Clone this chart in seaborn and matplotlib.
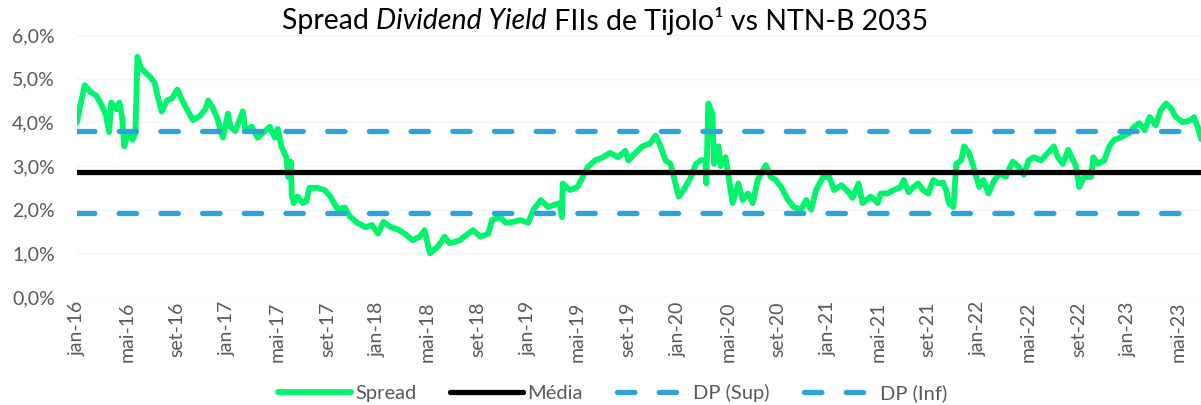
import pandas as pd
import matplotlib
matplotlib.use("Agg")
import matplotlib.pyplot as plt
import seaborn as sns

# --- dados (spread em %) ---
datas = [
    "2016-01-01", "2016-01-08", "2016-01-20", "2016-02-02", "2016-02-18", "2016-03-03",
    "2016-03-12", "2016-03-19", "2016-03-24", "2016-04-06", "2016-04-13", "2016-04-20",
    "2016-04-25", "2016-05-03", "2016-05-15", "2016-05-22", "2016-05-27", "2016-06-04",
    "2016-06-14", "2016-06-26", "2016-07-08", "2016-07-15", "2016-07-25", "2016-08-07",
    "2016-08-19", "2016-09-01", "2016-09-13", "2016-09-27", "2016-10-09", "2016-10-26",
    "2016-11-08", "2016-11-15", "2016-11-25", "2016-12-07", "2016-12-14", "2016-12-21",
    "2017-01-02", "2017-01-08", "2017-01-20", "2017-02-07", "2017-02-14", "2017-03-01",
    "2017-03-15", "2017-04-02", "2017-04-14", "2017-04-26", "2017-05-03", "2017-05-12",
    "2017-05-19", "2017-05-24", "2017-05-29", "2017-06-04", "2017-06-06", "2017-06-11",
    "2017-06-20", "2017-07-03", "2017-07-12", "2017-07-19", "2017-08-06", "2017-08-25",
    "2017-09-08", "2017-09-26", "2017-10-13", "2017-10-25", "2017-11-12", "2017-12-02",
    "2017-12-18", "2018-01-02", "2018-01-15", "2018-02-02", "2018-02-19", "2018-03-08",
    "2018-03-27", "2018-04-13", "2018-04-25", "2018-05-08", "2018-05-27", "2018-06-13",
    "2018-06-25", "2018-07-20", "2018-08-09", "2018-08-21", "2018-09-08", "2018-09-27",
    "2018-10-06", "2018-10-25", "2018-11-08", "2018-11-27", "2018-12-14", "2019-01-02",
    "2019-01-15", "2019-02-02", "2019-02-19", "2019-03-03", "2019-03-20", "2019-03-25",
    "2019-03-27", "2019-04-14", "2019-05-02", "2019-05-15", "2019-05-27", "2019-06-14",
    "2019-07-03", "2019-07-20", "2019-08-09", "2019-08-26", "2019-09-03", "2019-09-20",
    "2019-10-07", "2019-10-26", "2019-11-08", "2019-11-20", "2019-12-02", "2019-12-14",
    "2019-12-26", "2020-01-03", "2020-01-15", "2020-02-02", "2020-02-14", "2020-02-26",
    "2020-03-08", "2020-03-10", "2020-03-15", "2020-03-25", "2020-03-29", "2020-04-09",
    "2020-04-14", "2020-04-26", "2020-05-13", "2020-05-27", "2020-06-07", "2020-06-19",
    "2020-07-01", "2020-07-13", "2020-08-02", "2020-08-14", "2020-08-26", "2020-09-08",
    "2020-09-25", "2020-10-09", "2020-10-26", "2020-11-08", "2020-11-20", "2020-12-02",
    "2020-12-19", "2021-01-03", "2021-01-15", "2021-02-02", "2021-02-19", "2021-03-01",
    "2021-03-15", "2021-03-25", "2021-04-14", "2021-05-01", "2021-05-08", "2021-05-25",
    "2021-06-09", "2021-06-26", "2021-07-03", "2021-07-15", "2021-07-27", "2021-08-07",
    "2021-08-19", "2021-09-01", "2021-09-13", "2021-09-25", "2021-10-07", "2021-10-14",
    "2021-10-21", "2021-11-01", "2021-11-08", "2021-11-20", "2021-11-27", "2021-12-09",
    "2021-12-19", "2022-01-03", "2022-01-13", "2022-01-25", "2022-02-07", "2022-02-21",
    "2022-03-08", "2022-03-25", "2022-04-07", "2022-04-21", "2022-05-03", "2022-05-15",
    "2022-06-02", "2022-06-19", "2022-07-03", "2022-07-13", "2022-07-25", "2022-08-07",
    "2022-08-19", "2022-08-26", "2022-09-03", "2022-09-15", "2022-10-02", "2022-10-07",
    "2022-10-19", "2022-11-03", "2022-11-15", "2022-11-27", "2022-12-14", "2023-01-02",
    "2023-01-15", "2023-01-27", "2023-02-09", "2023-02-21", "2023-03-08", "2023-03-20",
    "2023-04-02", "2023-04-14", "2023-04-26", "2023-05-13", "2023-06-02", "2023-06-09",
    "2023-06-19", "2023-06-26",
]
spread = [
    4.00, 4.35, 4.85, 4.70, 4.60, 4.35,
    4.15, 3.78, 4.45, 4.30, 4.45, 4.10,
    3.45, 3.75, 3.60, 3.75, 5.50, 5.25,
    5.15, 5.05, 4.90, 4.60, 4.25, 4.50,
    4.55, 4.75, 4.50, 4.25, 4.05, 4.15,
    4.30, 4.50, 4.35, 4.10, 3.85, 3.65,
    4.20, 3.90, 3.80, 4.25, 3.80, 3.90,
    3.65, 3.80, 3.90, 3.65, 3.85, 3.45,
    3.30, 3.20, 2.75, 3.10, 2.35, 2.15,
    2.30, 2.15, 2.20, 2.50, 2.50, 2.45,
    2.30, 2.00, 2.05, 1.85, 1.70, 1.60,
    1.65, 1.45, 1.72, 1.60, 1.55, 1.45,
    1.30, 1.38, 1.53, 1.00, 1.15, 1.38,
    1.23, 1.30, 1.45, 1.53, 1.38, 1.45,
    1.76, 1.83, 1.70, 1.72, 1.76, 1.70,
    2.00, 2.22, 2.06, 2.10, 2.15, 1.83,
    2.60, 2.45, 2.52, 2.75, 2.98, 3.13,
    3.20, 3.30, 3.20, 3.35, 3.13, 3.30,
    3.45, 3.52, 3.70, 3.45, 3.13, 3.05,
    2.60, 2.30, 2.45, 2.75, 3.05, 3.13,
    3.13, 2.60, 4.43, 4.20, 3.05, 3.45,
    3.00, 3.20, 2.15, 2.60, 2.22, 2.37,
    2.15, 2.68, 3.02, 2.75, 2.68, 2.52,
    2.22, 2.06, 2.00, 2.22, 2.00, 2.45,
    2.75, 2.75, 2.45, 2.56, 2.40, 2.27,
    2.60, 2.15, 2.30, 2.15, 2.37, 2.37,
    2.45, 2.52, 2.68, 2.40, 2.52, 2.60,
    2.45, 2.37, 2.68, 2.60, 2.62, 2.45,
    2.15, 2.06, 3.05, 3.13, 3.45, 3.30,
    3.00, 2.52, 2.68, 2.37, 2.65, 2.83,
    2.75, 3.10, 3.00, 2.80, 3.13, 3.20,
    3.13, 3.30, 3.45, 3.20, 3.05, 3.37,
    3.13, 3.00, 2.52, 2.75, 2.75, 3.20,
    3.05, 3.13, 3.45, 3.60, 3.66, 3.75,
    3.90, 3.98, 3.82, 4.12, 3.93, 4.28,
    4.43, 4.32, 4.12, 4.00, 4.05, 4.12,
    3.87, 3.62,
]

media = 2.86
dp_sup = 3.80
dp_inf = 1.92

y_ticks = [0, 1, 2, 3, 4, 5, 6]
y_labels = ["0,0%", "1,0%", "2,0%", "3,0%", "4,0%", "5,0%", "6,0%"]
meses = {1: "jan", 5: "mai", 9: "set"}

titulo = [("Spread ", "normal"), ("Dividend Yield", "italic"),
          (" FIIs de Tijolo¹ vs NTN-B 2035", "normal")]

# --- estilo ---
sns.set_theme(style="white")
plt.rcParams["font.family"] = ["Lato", "DejaVu Sans"]

df = pd.DataFrame({"data": pd.to_datetime(datas), "spread": spread})

W, H = 1201, 405
fig = plt.figure(figsize=(W / 100, H / 100), dpi=100)
ax = fig.add_axes([77 / W, 1 - 297 / H, 1 - 77 / W, (297 - 35) / H])

for v in y_ticks:
    ax.axhline(v, color="#eef5f2", lw=1, zorder=0)

sns.lineplot(data=df, x="data", y="spread", ax=ax, color="#00f56c",
             lw=4.2, zorder=2, label="Spread")
ax.axhline(media, color="black", lw=3.8, zorder=3, label="Média")
tracejado = (0, (3.3, 4.6))
ax.axhline(dp_sup, color="#2ea3db", lw=3.8, ls=tracejado,
           dash_capstyle="round", zorder=4, label="DP (Sup)")
ax.axhline(dp_inf, color="#2ea3db", lw=3.8, ls=tracejado,
           dash_capstyle="round", zorder=4, label="DP (Inf)")

if ax.get_legend() is not None:
    ax.get_legend().remove()

# --- eixos ---
tick_datas = pd.date_range("2016-01-01", "2023-05-01", freq="4MS")
tick_labels = [f"{meses[d.month]}-{d:%y}" for d in tick_datas]
ax.set_xticks(tick_datas)
ax.set_xticklabels(tick_labels, rotation=90)
ax.set_yticks(y_ticks)
ax.set_yticklabels(y_labels)
ax.set_xlim(df["data"].iloc[0], df["data"].iloc[-1])
ax.set_ylim(0, 6)
ax.set_xlabel("")
ax.set_ylabel("")
ax.tick_params(axis="x", length=0, pad=3, labelsize=14, colors="#595959")
ax.tick_params(axis="y", length=0, pad=16, labelsize=14, colors="#595959")
for s in ax.spines.values():
    s.set_visible(False)

# --- legenda ---
handles, labels = ax.get_legend_handles_labels()
fig.legend(handles, labels, loc="center", bbox_to_anchor=(613 / W, 12 / H),
           ncol=4, frameon=False, fontsize=14.5, handlelength=3.6,
           handletextpad=0.2, columnspacing=1.7, labelcolor="#595959")

# --- título com trecho em itálico ---
fig.canvas.draw()
r = fig.canvas.get_renderer()
textos = [fig.text(0, 1 - 21 / H, p, style=s, fontsize=20.5, color="black", va="center")
          for p, s in titulo]
larg = [t.get_window_extent(r).width for t in textos]
x0 = 605 - sum(larg) / 2
for t, w in zip(textos, larg):
    t.set_x(x0 / W)
    x0 += w

fig.savefig("out.png", dpi=100)
